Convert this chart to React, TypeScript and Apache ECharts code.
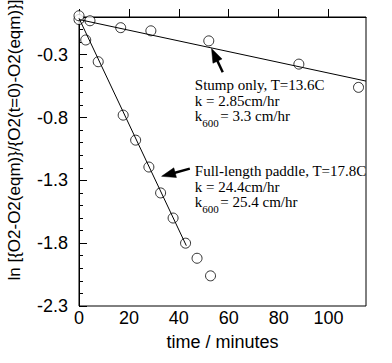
import React, { useEffect, useRef } from "react";
import * as echarts from "echarts";

// ---- data ----
const stumpTime = [0, 4.4, 16.7, 28.8, 52, 88.1, 112];
const stumpLn = [-0.02, -0.03, -0.085, -0.11, -0.19, -0.375, -0.56];
const paddleTime = [0, 2.7, 7.7, 17.7, 22.7, 28, 32.7, 37.7, 42.7, 47.3, 52.7];
const paddleLn = [0.01, -0.183, -0.356, -0.781, -0.98, -1.194, -1.4, -1.6, -1.8, -1.92, -2.06];

// fitted lines (end points)
const stumpFitTime = [0, 115];
const stumpFitLn = [-0.02, -0.51];
const paddleFitTime = [0, 43];
const paddleFitLn = [-0.01, -1.82];

// x ticks / y ticks
const xMin = 0, xMax = 115, xStep = 20;
const yMin = -2.3, yMax = 0, yStep = 0.5, yMinorStep = 0.1;

// annotations (data coordinates)
const stumpLabels = ["Stump only, T=13.6C", "k = 2.85cm/hr", "= 3.3 cm/hr"];
const paddleLabels = ["Full-length paddle, T=17.8C", "k = 24.4cm/hr", "= 25.4 cm/hr"];
const stumpLabelAnchor = [46.4, -0.542];
const paddleLabelAnchor = [46.4, -1.228];
const stumpArrowTail = [57.6, -0.44];
const stumpArrowTip = [53.1, -0.25];
const paddleArrowTail = [44.4, -1.207];
const paddleArrowTip = [33.1, -1.268];

const xName = "time / minutes";
const yName = "ln [{O2-O2(eqm)}/{O2(t=0)-O2(eqm)}]";

const SANS = '"Liberation Sans", Arial, sans-serif';
const SERIF = '"Liberation Serif", "Times New Roman", serif';

const zip = (a: number[], b: number[]) => a.map((v, i) => [v, b[i]]);

export default function App() {
  const ref = useRef<HTMLDivElement>(null);
  useEffect(() => {
    if (!ref.current) return;
    const chart = echarts.init(ref.current, null, { renderer: "svg" });
    const circleStyle = { color: "#fff", borderColor: "#000", borderWidth: 1 };
    chart.setOption({
      animation: false,
      grid: { left: 79, top: 17, right: 26, bottom: 57, show: true, borderColor: "#000", borderWidth: 1, backgroundColor: "transparent" },
      xAxis: {
        type: "value",
        min: xMin,
        max: xMax,
        interval: xStep,
        name: xName,
        nameLocation: "middle",
        nameGap: 27,
        nameTextStyle: { fontFamily: SANS, fontSize: 18, color: "#000" },
        axisLine: { lineStyle: { color: "#000", width: 1 } },
        axisTick: { inside: true, length: 8, lineStyle: { color: "#000" } },
        axisLabel: { fontFamily: SANS, fontSize: 18, color: "#000", margin: 3, showMaxLabel: false },
        splitLine: { show: false },
      },
      yAxis: [
        {
          type: "value",
          min: yMin,
          max: yMax,
          interval: yStep,
          axisLine: { show: true, lineStyle: { color: "#000", width: 1 } },
          axisTick: { inside: true, length: 8, lineStyle: { color: "#000" } },
          axisLabel: {
            fontFamily: SANS,
            fontSize: 18,
            color: "#000",
            margin: 11,
            showMaxLabel: false,
            formatter: (v: number) => v.toFixed(1),
          },
          splitLine: { show: false },
        },
        {
          type: "value",
          position: "left",
          min: yMin,
          max: yMax,
          interval: yMinorStep,
          axisLine: { show: false },
          axisTick: { show: true, inside: true, length: 4, lineStyle: { color: "#000" } },
          axisLabel: { show: false },
          splitLine: { show: false },
        },
      ],
      series: [
        {
          type: "line",
          data: zip(stumpFitTime, stumpFitLn),
          symbol: "none",
          lineStyle: { color: "#000", width: 1 },
          silent: true,
        },
        {
          type: "line",
          data: zip(paddleFitTime, paddleFitLn),
          symbol: "none",
          lineStyle: { color: "#000", width: 1 },
          silent: true,
        },
        {
          type: "scatter",
          data: zip(stumpTime, stumpLn),
          symbol: "circle",
          symbolSize: 10,
          itemStyle: circleStyle,
          clip: false,
        },
        {
          type: "scatter",
          data: zip(paddleTime, paddleLn),
          symbol: "circle",
          symbolSize: 10,
          itemStyle: circleStyle,
          clip: false,
        },
      ],
    });

    const px = (p: number[]) => chart.convertToPixel({ xAxisIndex: 0, yAxisIndex: 0 }, p) as number[];

    const arrow = (tailD: number[], tipD: number[]) => {
      const s = px(tailD);
      const t = px(tipD);
      const dx = t[0] - s[0], dy = t[1] - s[1];
      const len = Math.hypot(dx, dy);
      const ux = dx / len, uy = dy / len;
      const L = 14, W = 5;
      const bx = t[0] - ux * L, by = t[1] - uy * L;
      return [
        { type: "line", shape: { x1: s[0], y1: s[1], x2: bx + ux * 2, y2: by + uy * 2 }, style: { stroke: "#000", lineWidth: 2.5 } },
        {
          type: "polygon",
          shape: { points: [[t[0], t[1]], [bx - uy * W, by + ux * W], [bx + uy * W, by - ux * W]] },
          style: { fill: "#000", stroke: "#000", lineWidth: 0.5 },
        },
      ];
    };

    const block = (anchorD: number[], lines: string[]) => {
      const a = px(anchorD);
      const base = { fontFamily: SERIF, fontSize: 15, fill: "#000", verticalAlign: "middle", align: "left" };
      return [
        { type: "text", x: a[0], y: a[1], style: { ...base, text: lines[0] } },
        { type: "text", x: a[0], y: a[1] + 16, style: { ...base, text: lines[1] } },
        { type: "text", x: a[0], y: a[1] + 31, style: { ...base, text: "k" } },
        { type: "text", x: a[0] + 7.5, y: a[1] + 31 + 6.6, style: { ...base, fontSize: 11, text: "600" } },
        { type: "text", x: a[0] + 25.5, y: a[1] + 31, style: { ...base, text: lines[2] } },
      ];
    };

    chart.setOption({
      graphic: [
        ...arrow(stumpArrowTail, stumpArrowTip),
        ...arrow(paddleArrowTail, paddleArrowTip),
        ...block(stumpLabelAnchor, stumpLabels),
        ...block(paddleLabelAnchor, paddleLabels),
        {
          type: "text",
          x: 14,
          y: 140,
          rotation: Math.PI / 2,
          style: { text: yName, fontFamily: SANS, fontSize: 17, fill: "#000", align: "center", verticalAlign: "middle" },
        },
      ],
    });

    return () => chart.dispose();
  }, []);
  return <div ref={ref} style={{ width: 392, height: 363, position: "absolute", left: 0, top: 0 }} />;
}
